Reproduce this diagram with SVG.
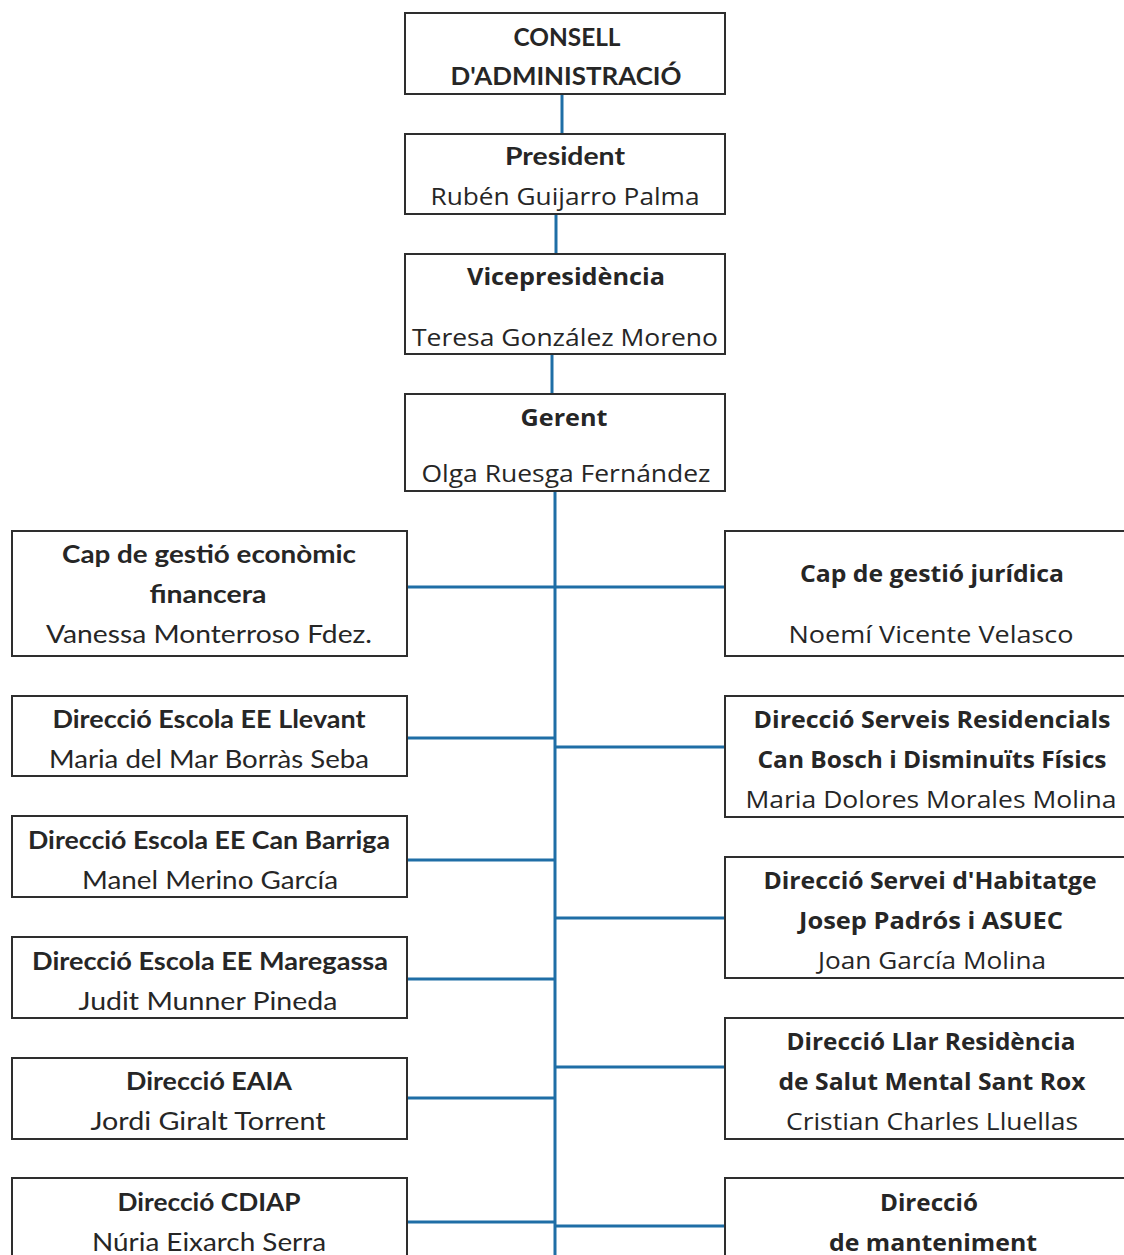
<svg xmlns="http://www.w3.org/2000/svg" width="1124" height="1255" viewBox="0 0 1124 1255">
<style>
.box{fill:#fff;stroke:#2e2e2e;stroke-width:2}
.c{stroke:#1f6ea6;stroke-width:3;fill:none}
text{fill:#262626;text-anchor:middle;font-size:25px}
.l{font-family:Lato,"Liberation Sans",sans-serif}
.r{font-family:"Open Sans","Noto Sans",sans-serif;font-size:23px}
.b{font-weight:bold}
</style>
<rect width="1124" height="1255" fill="#fff"/>
<g id="connectors">
<line class="c" x1="562" y1="94" x2="562" y2="134"/>
<line class="c" x1="556" y1="214" x2="556" y2="254"/>
<line class="c" x1="552" y1="354" x2="552" y2="394"/>
<line class="c" x1="555" y1="491" x2="555" y2="1255"/>
<line class="c" x1="407" y1="587" x2="725" y2="587"/>
<line class="c" x1="407" y1="738" x2="555" y2="738"/>
<line class="c" x1="555" y1="747" x2="725" y2="747"/>
<line class="c" x1="407" y1="860" x2="555" y2="860"/>
<line class="c" x1="555" y1="918" x2="725" y2="918"/>
<line class="c" x1="407" y1="979" x2="555" y2="979"/>
<line class="c" x1="555" y1="1067" x2="725" y2="1067"/>
<line class="c" x1="407" y1="1098" x2="555" y2="1098"/>
<line class="c" x1="407" y1="1222" x2="555" y2="1222"/>
<line class="c" x1="555" y1="1226" x2="728" y2="1226"/>
</g>
<g id="consell">
<rect class="box" x="405" y="13" width="320" height="81"/>
<text class="l b" x="567" y="46" textLength="107" lengthAdjust="spacingAndGlyphs">CONSELL</text>
<text class="l b" x="566" y="85" textLength="231" lengthAdjust="spacingAndGlyphs">D'ADMINISTRACIÓ</text>
</g>
<g id="president">
<rect class="box" x="405" y="134" width="320" height="80"/>
<text class="l b" x="565" y="165" textLength="120" lengthAdjust="spacingAndGlyphs">President</text>
<text class="r" x="565" y="205" textLength="269" lengthAdjust="spacingAndGlyphs">Rubén Guijarro Palma</text>
</g>
<g id="vicepresidencia">
<rect class="box" x="405" y="254" width="320" height="100"/>
<text class="r b" x="566" y="285" textLength="198" lengthAdjust="spacingAndGlyphs">Vicepresidència</text>
<text class="r" x="565" y="346" textLength="306" lengthAdjust="spacingAndGlyphs">Teresa González Moreno</text>
</g>
<g id="gerent">
<rect class="box" x="405" y="394" width="320" height="97"/>
<text class="r b" x="564" y="426" textLength="87" lengthAdjust="spacingAndGlyphs">Gerent</text>
<text class="r" x="566" y="482" textLength="289" lengthAdjust="spacingAndGlyphs">Olga Ruesga Fernández</text>
</g>
<g id="economic">
<rect class="box" x="12" y="531" width="395" height="125"/>
<text class="l b" x="209" y="563" textLength="294" lengthAdjust="spacingAndGlyphs">Cap de gestió econòmic</text>
<text class="l b" x="208" y="603" textLength="117" lengthAdjust="spacingAndGlyphs">financera</text>
<text class="l" x="209" y="643" textLength="326" lengthAdjust="spacingAndGlyphs">Vanessa Monterroso Fdez.</text>
</g>
<g id="llevant">
<rect class="box" x="12" y="696" width="395" height="80"/>
<text class="l b" x="209" y="728" textLength="313" lengthAdjust="spacingAndGlyphs">Direcció Escola EE Llevant</text>
<text class="l" x="209" y="768" textLength="320" lengthAdjust="spacingAndGlyphs">Maria del Mar Borràs Seba</text>
</g>
<g id="canbarriga">
<rect class="box" x="12" y="816" width="395" height="81"/>
<text class="l b" x="209" y="849" textLength="362" lengthAdjust="spacingAndGlyphs">Direcció Escola EE Can Barriga</text>
<text class="l" x="210" y="889" textLength="256" lengthAdjust="spacingAndGlyphs">Manel Merino García</text>
</g>
<g id="maregassa">
<rect class="box" x="12" y="937" width="395" height="81"/>
<text class="l b" x="210" y="970" textLength="356" lengthAdjust="spacingAndGlyphs">Direcció Escola EE Maregassa</text>
<text class="l" x="208" y="1010" textLength="259" lengthAdjust="spacingAndGlyphs">Judit Munner Pineda</text>
</g>
<g id="eaia">
<rect class="box" x="12" y="1058" width="395" height="81"/>
<text class="l b" x="209" y="1090" textLength="166" lengthAdjust="spacingAndGlyphs">Direcció EAIA</text>
<text class="l" x="208" y="1130" textLength="235" lengthAdjust="spacingAndGlyphs">Jordi Giralt Torrent</text>
</g>
<g id="cdiap">
<rect class="box" x="12" y="1178" width="395" height="90"/>
<text class="l b" x="209" y="1211" textLength="183" lengthAdjust="spacingAndGlyphs">Direcció CDIAP</text>
<text class="l" x="209" y="1251" textLength="234" lengthAdjust="spacingAndGlyphs">Núria Eixarch Serra</text>
</g>
<g id="juridica">
<rect class="box" x="725" y="531" width="410" height="125"/>
<text class="r b" x="932" y="582" textLength="264" lengthAdjust="spacingAndGlyphs">Cap de gestió jurídica</text>
<text class="r" x="931" y="643" textLength="285" lengthAdjust="spacingAndGlyphs">Noemí Vicente Velasco</text>
</g>
<g id="residencials">
<rect class="box" x="725" y="696" width="410" height="121"/>
<text class="r b" x="932" y="728" textLength="357" lengthAdjust="spacingAndGlyphs">Direcció Serveis Residencials</text>
<text class="r b" x="932" y="768" textLength="349" lengthAdjust="spacingAndGlyphs">Can Bosch i Disminuïts Físics</text>
<text class="r" x="931" y="808" textLength="371" lengthAdjust="spacingAndGlyphs">Maria Dolores Morales Molina</text>
</g>
<g id="habitatge">
<rect class="box" x="725" y="857" width="410" height="121"/>
<text class="r b" x="930" y="889" textLength="333" lengthAdjust="spacingAndGlyphs">Direcció Servei d'Habitatge</text>
<text class="r b" x="931" y="929" textLength="264" lengthAdjust="spacingAndGlyphs">Josep Padrós i ASUEC</text>
<text class="r" x="932" y="969" textLength="228" lengthAdjust="spacingAndGlyphs">Joan García Molina</text>
</g>
<g id="llar">
<rect class="box" x="725" y="1018" width="410" height="121"/>
<text class="r b" x="931" y="1050" textLength="289" lengthAdjust="spacingAndGlyphs">Direcció Llar Residència</text>
<text class="r b" x="932" y="1090" textLength="307" lengthAdjust="spacingAndGlyphs">de Salut Mental Sant Rox</text>
<text class="r" x="932" y="1130" textLength="292" lengthAdjust="spacingAndGlyphs">Cristian Charles Lluellas</text>
</g>
<g id="manteniment">
<rect class="box" x="725" y="1178" width="410" height="90"/>
<text class="r b" x="929" y="1211" textLength="98" lengthAdjust="spacingAndGlyphs">Direcció</text>
<text class="r b" x="933" y="1251" textLength="208" lengthAdjust="spacingAndGlyphs">de manteniment</text>
</g>
</svg>
